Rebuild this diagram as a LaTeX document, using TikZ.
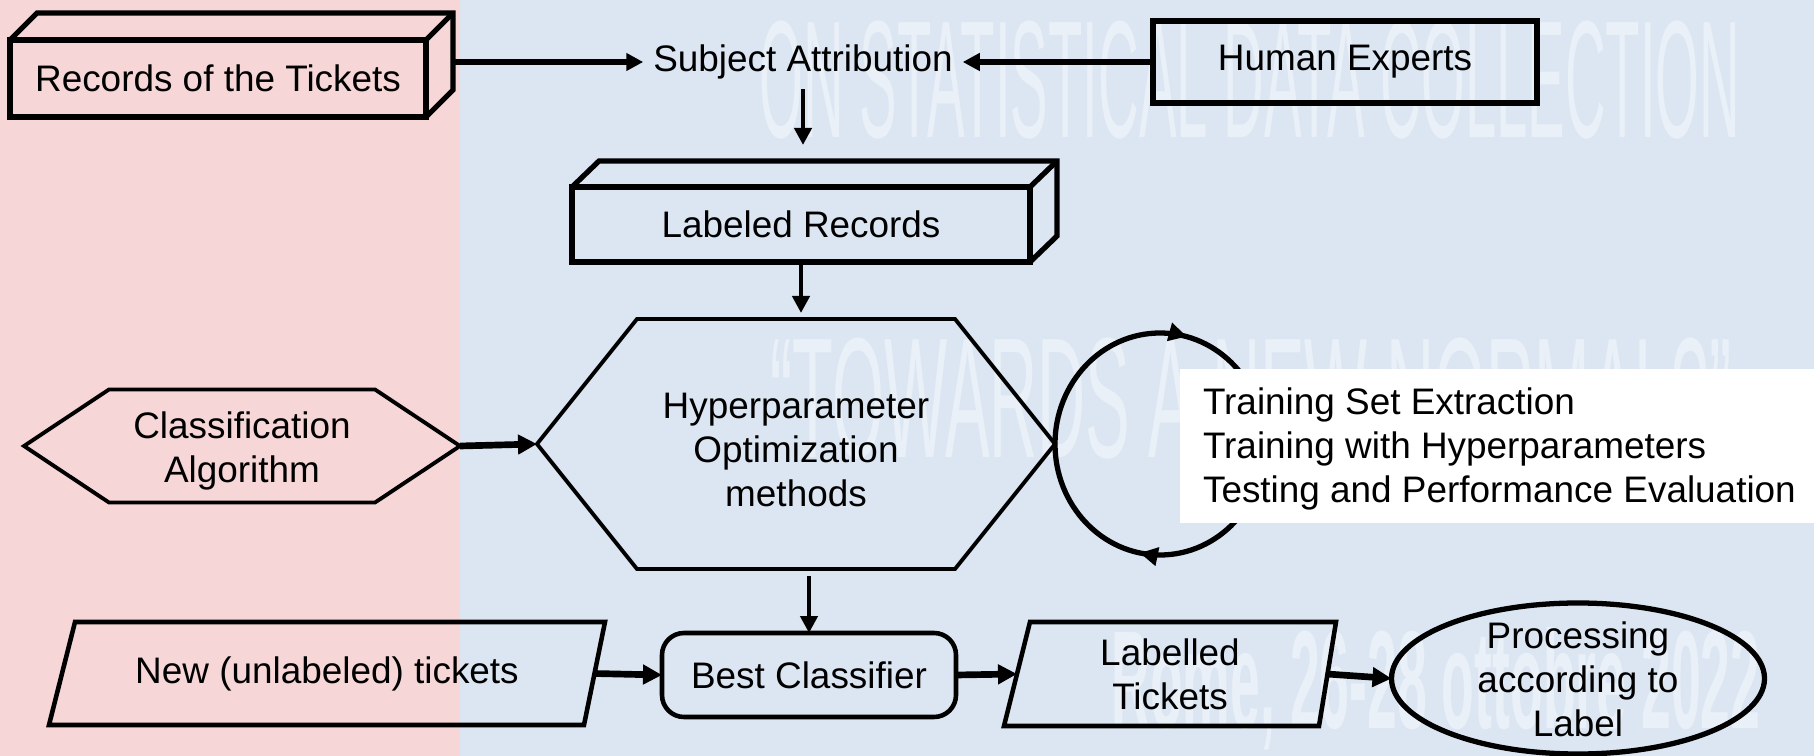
\documentclass[tikz,border=0pt]{standalone}
\usepackage{fontspec}
\setmainfont{Liberation Sans}
\usetikzlibrary{arrows.meta,shapes.geometric,calc,decorations.markings}
\definecolor{pinkbg}{RGB}{246,214,214}
\definecolor{bluebg}{RGB}{220,230,242}
\tikzset{
  base/.style={font=\fontsize{10.5}{12.5}\selectfont, outer sep=0pt, align=center},
  boxline/.style={draw=black, line width=1.5pt, line join=miter},
  hexline/.style={draw=black, line width=1.1pt, line join=miter},
  arr/.style={draw=black, line width=1.6pt, -{Triangle[length=1.7mm,width=1.7mm]}},
  varr/.style={arr, line width=1.2pt},
  thickarr/.style={draw=black, line width=1.9pt, -{Triangle[length=1.9mm,width=1.9mm]}},
  wm/.style={text=white, text opacity=0.4, inner sep=0pt, anchor=base},
  looptip/.style={decoration={markings,
      mark=at position 0.28 with {\arrow{Triangle[length=1.8mm,width=1.8mm]}},
      mark=at position 0.79 with {\arrow{Triangle[length=1.8mm,width=1.8mm]}}},
      postaction={decorate}}
}
\begin{document}
\begin{tikzpicture}[x=0.1mm,y=-0.1mm]
\useasboundingbox (0,0) rectangle (1814,756);
\fill[bluebg] (0,0) rectangle (1814,756);
\fill[pinkbg] (0,0) rectangle (460,756);
% watermarks
\node[wm, xscale=0.337, font=\fontsize{47.5}{50}\selectfont] (wma) at (1250,138) {ON STATISTICAL DATA COLLECTION};
\node[wm, xscale=0.39, font=\fontsize{48.7}{50}\selectfont] (wmb) at (1251,458) {“TOWARDS A NEW NORMAL?”};
\node[wm, xscale=0.384, font=\bfseries\fontsize{39.7}{42}\selectfont] (wmc) at (1436,728) {Rome, 26-28 ottobre 2022};

% Records of the Tickets (3D box)
\node[base, boxline, minimum width=41.6mm, minimum height=7.7mm] (rec) at (218,78.5) {Records of the Tickets};
\coordinate (recR) at ($(rec.north east)+(27,-27)$);
\draw[boxline] (rec.north west) -- ++(27,-27) -- (recR) -- ($(rec.south east)+(27,-27)$) -- (rec.south east);
\draw[boxline] (rec.north east) -- (recR);

% Subject attribution and Human experts
\node[base, inner sep=1mm] (subj) at (803,62) {Subject Attribution};
\node[base, boxline, minimum width=38.4mm, minimum height=8.2mm] (hum) at (1345,62) {Human Experts};

% Labeled Records (3D box)
\node[base, boxline, minimum width=45.8mm, minimum height=7.5mm] (lab) at (801,224.5) {Labeled Records};
\coordinate (labL) at ($(lab.north west)+(27,-26)$);
\coordinate (labR) at ($(lab.north east)+(27,-26)$);
\draw[boxline] (lab.north west) -- (labL) -- (labR) -- ($(lab.south east)+(27,-26)$) -- (lab.south east);
\draw[boxline] (lab.north east) -- (labR);

% Classification Algorithm hexagon
\node[base, minimum width=43.6mm, minimum height=11.3mm] (cls) at (242,446) {};
\node[base] (clst) at (242,451) {Classification\\Algorithm};
\draw[hexline] (cls.west) -- ($(cls.north west)+(85,0)$) -- ($(cls.north east)+(-85,0)$) -- (cls.east)
  -- ($(cls.south east)+(-85,0)$) -- ($(cls.south west)+(85,0)$) -- cycle;

% Hyperparameter hexagon
\node[base, minimum width=51.8mm, minimum height=25mm] (hyp) at (796,444) {};
\node[base] (hypt) at (796,450) {Hyperparameter\\Optimization\\methods};
\draw[hexline] (hyp.west) -- ($(hyp.north west)+(100,0)$) -- ($(hyp.north east)+(-100,0)$) -- (hyp.east)
  -- ($(hyp.south east)+(-100,0)$) -- ($(hyp.south west)+(100,0)$) -- cycle;

% loop
\coordinate (loopc) at (1160,444);
\draw[black, line width=1.5pt, looptip] (loopc) ellipse [x radius=105, y radius=111];

% white box with steps
\node[fill=white, inner sep=0pt, outer sep=0pt, minimum width=63.4mm, minimum height=15.4mm, anchor=north west] (stepsbg) at (1180,369) {};
\node[base, align=left, inner sep=0pt, anchor=west] (steps) at (1203,449) {Training Set Extraction\\Training with Hyperparameters\\Testing and Performance Evaluation};

% bottom row
\node[base, minimum width=55.6mm, minimum height=10.3mm] (newt) at (327,673.5) {New (unlabeled) tickets};
\draw[boxline, line width=1.3pt] ($(newt.north west)+(26,0)$) -- (newt.north east) -- ($(newt.south east)+(-21,0)$) -- (newt.south west) -- cycle;

\node[base, draw=black, line width=1.3pt, rounded corners=2.2mm, minimum width=29.4mm, minimum height=8.4mm] (best) at (809,675) {Best Classifier};

\node[base, minimum width=33.2mm, minimum height=10.4mm] (labt) at (1170,674) {Labelled\\Tickets};
\draw[boxline, line width=1.3pt] ($(labt.north west)+(26,0)$) -- (labt.north east) -- ($(labt.south east)+(-17,0)$) -- (labt.south west) -- cycle;

\node[draw=black, ellipse, line width=1.5pt, minimum width=37.3mm, minimum height=15.1mm, inner sep=0pt, outer sep=0pt] (proc) at (1578,678.5) {};
\node[base] (proct) at (1578,679) {Processing\\according to\\Label};

% connectors
\draw[arr] (recR |- subj.west) -- (subj.west);
\draw[arr] (hum.west) -- (subj.east);
\draw[varr, shorten >=1.6mm] (subj.south) -- (subj.south |- labL);
\draw[varr, shorten >=0.6mm] (lab.south) -- (lab.south |- hyp.north);
\draw[thickarr] (cls.east) -- (hyp.west);
\draw[varr, shorten <=0.7mm] (best.north |- hyp.south) -- (best.north);
\draw[thickarr] ($(newt.east)+(-11,0)$) -- (best.west);
\draw[thickarr] (best.east) -- ($(labt.west)+(13,0)$);
\draw[thickarr] ($(labt.east)+(-9,0)$) -- (proc.west);
\end{tikzpicture}
\end{document}
